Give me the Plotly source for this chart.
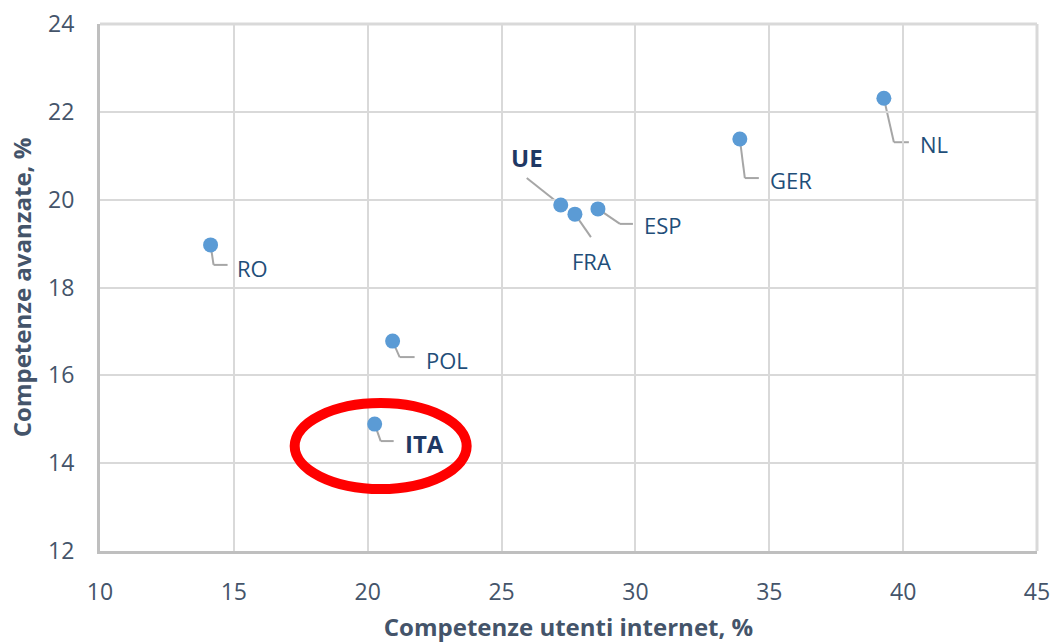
import plotly.graph_objects as go

# ---- data ----
countries = ["RO", "POL", "ITA", "UE", "FRA", "ESP", "GER", "NL"]
internet_users = [14.13, 20.93, 20.26, 27.21, 27.74, 28.60, 33.90, 39.28]
advanced_skills = [18.97, 16.78, 14.89, 19.88, 19.67, 19.79, 21.38, 22.31]
bold_labels = ["UE", "ITA"]
highlight = "ITA"

x_ticks = [10, 15, 20, 25, 30, 35, 40, 45]
y_ticks = [12, 14, 16, 18, 20, 22, 24]

# ---- label layout (pixel offsets from each point; y down) ----
leader = {
    "RO":  dict(elbow=(3, 20),  end=(17, 20),  lab=(24, 23),  anchor="left"),
    "POL": dict(elbow=(7, 16),  end=(22, 16),  lab=(31, 19),  anchor="left"),
    "ITA": dict(elbow=(6, 17),  end=(19, 17),  lab=(28, 19),  anchor="left"),
    "UE":  dict(elbow=(-34, -27), end=(-34, -27), lab=(-34, -47), anchor="center"),
    "FRA": dict(elbow=(16, 23), end=(16, 23),  lab=(17, 47),  anchor="center"),
    "ESP": dict(elbow=(22, 15), end=(35, 15),  lab=(44, 16),  anchor="left"),
    "GER": dict(elbow=(5, 39),  end=(19, 39),  lab=(28, 41),  anchor="left"),
    "NL":  dict(elbow=(10, 44), end=(25, 44),  lab=(34, 46),  anchor="left"),
}

label_color = "#1f4e79"
tick_color = "#44546a"
grid_color = "#d9d9d9"
font_family = "Open Sans, Noto Sans, sans-serif"

fig = go.Figure()
fig.add_trace(go.Scatter(
    x=internet_users, y=advanced_skills, mode="markers",
    marker=dict(size=15, color="#5b9bd5"),
    hoverinfo="text", text=countries, showlegend=False,
))

shapes = [
    # top and right frame lines (grid-coloured)
    dict(type="line", xref="paper", yref="paper", x0=0, x1=1, y0=1, y1=1,
         line=dict(color=grid_color, width=3), layer="below"),
    dict(type="line", xref="paper", yref="paper", x0=1, x1=1, y0=0, y1=1,
         line=dict(color=grid_color, width=3), layer="below"),
]
annotations = []
for c, xv, yv in zip(countries, internet_users, advanced_skills):
    L = leader[c]
    pts = [(0, 0), L["elbow"], L["end"]]
    for (ax0, ay0), (ax1, ay1) in zip(pts[:-1], pts[1:]):
        if (ax0, ay0) == (ax1, ay1):
            continue
        shapes.append(dict(
            type="line", xref="x", yref="y",
            xsizemode="pixel", ysizemode="pixel",
            xanchor=xv, yanchor=yv,
            x0=ax0, x1=ax1, y0=-ay0, y1=-ay1,
            line=dict(color="#a6a6a6", width=2), layer="below",
        ))
    bold = c in bold_labels
    annotations.append(dict(
        x=xv, y=yv, xref="x", yref="y",
        text=f"<b>{c}</b>" if bold else c,
        showarrow=False,
        xshift=L["lab"][0], yshift=-L["lab"][1],
        xanchor=L["anchor"], yanchor="middle",
        font=dict(family=font_family, size=24 if bold else 22,
                  color="#1f3864" if bold else label_color),
    ))

# red highlight ellipse around ITA
hi = countries.index(highlight)
shapes.append(dict(
    type="circle", xref="x", yref="y",
    xsizemode="pixel", ysizemode="pixel",
    xanchor=internet_users[hi], yanchor=advanced_skills[hi],
    x0=6 - 86, x1=6 + 86, y0=-22 - 43, y1=-22 + 43,
    line=dict(color="#ff0000", width=10), layer="above",
))

fig.update_layout(
    width=1055, height=643,
    margin=dict(l=100, r=18, t=24, b=92),
    paper_bgcolor="white", plot_bgcolor="white",
    shapes=shapes, annotations=annotations,
    font=dict(family=font_family, color=tick_color),
)
fig.update_xaxes(
    range=[10, 45], tickvals=x_ticks, ticktext=[str(v) for v in x_ticks],
    showgrid=True, gridcolor=grid_color, gridwidth=2,
    showline=True, linecolor="#bfbfbf", linewidth=3,
    zeroline=False, ticks="", ticklabelstandoff=18, automargin=False,
    tickfont=dict(family=font_family, size=23, color=tick_color),
    title=dict(text="<b>Competenze utenti internet, %</b>",
               font=dict(family=font_family, size=24, color=tick_color), standoff=14),
)
fig.update_yaxes(
    range=[12, 24], tickvals=y_ticks, ticktext=[str(v) for v in y_ticks],
    showgrid=True, gridcolor=grid_color, gridwidth=2,
    showline=True, linecolor="#bfbfbf", linewidth=3,
    zeroline=False, ticks="", ticklabelstandoff=18, automargin=False,
    tickfont=dict(family=font_family, size=23, color=tick_color),
    title=dict(text="<b>Competenze avanzate, %</b>",
               font=dict(family=font_family, size=24, color=tick_color), standoff=10),
)

fig.write_html(
    "out.html",
    config={"displayModeBar": False},
    post_script="document.body.style.margin='0';document.body.style.overflow='hidden';",
)
